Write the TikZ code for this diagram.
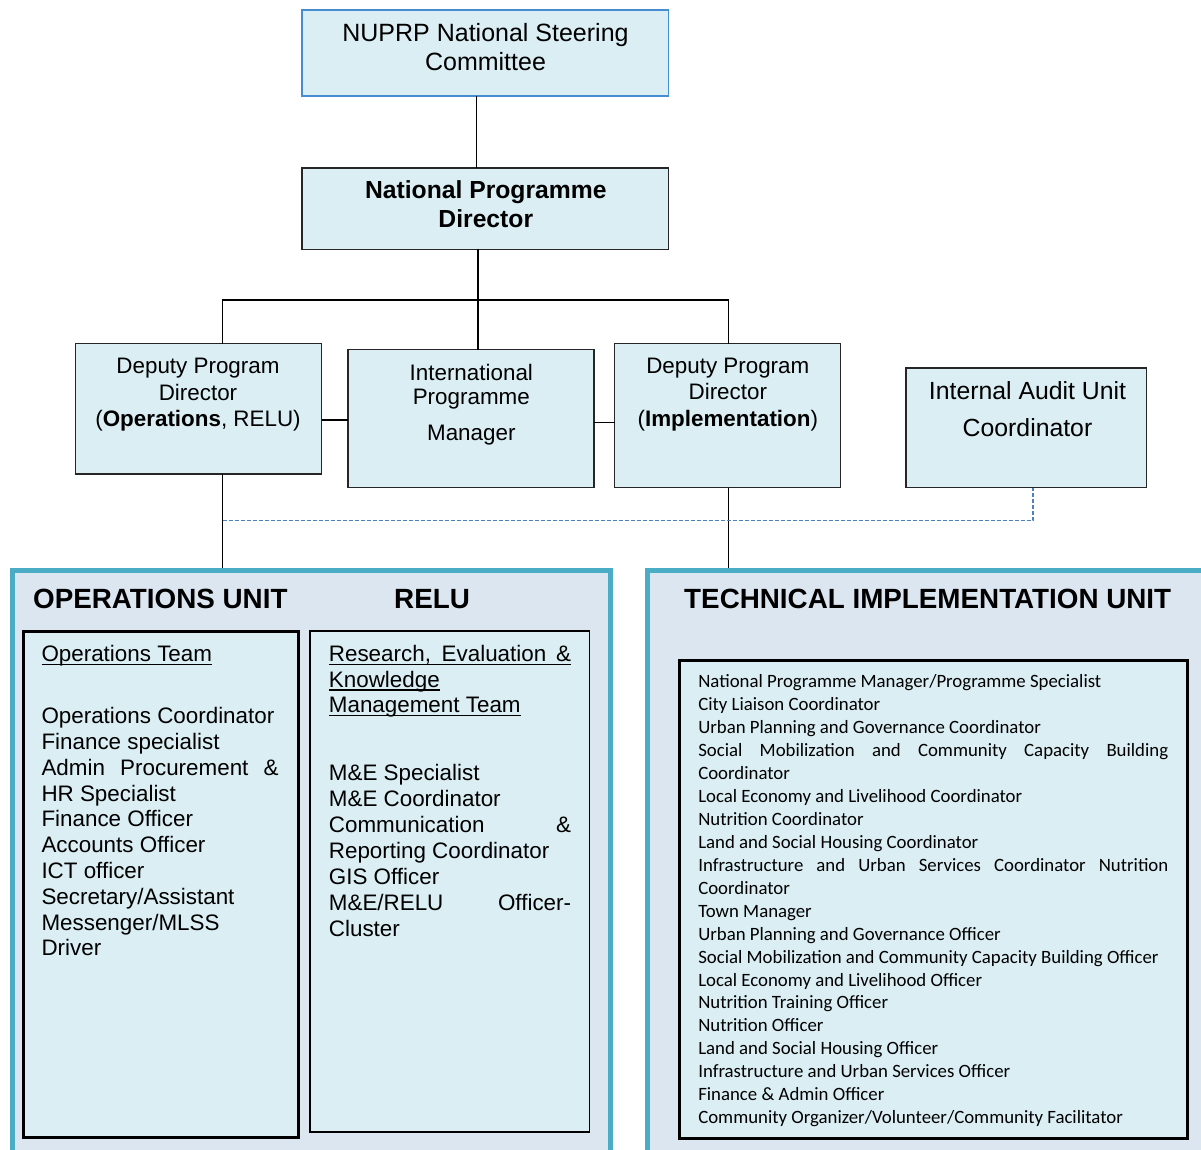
\documentclass[tikz,border=0pt]{standalone}
\usepackage{fontspec}
\setmainfont{Liberation Sans}
\newfontfamily\calib{Carlito}
\usetikzlibrary{calc}
\definecolor{cellblue}{RGB}{218,238,243}
\definecolor{unitfill}{RGB}{220,230,241}
\definecolor{unitteal}{RGB}{75,172,198}
\definecolor{nusblue}{RGB}{70,140,210}
\definecolor{dashblue}{RGB}{79,129,189}
\newcommand\ulx[1]{\setbox0\hbox{#1}\rlap{\rule[-3.6pt]{\wd0}{1.3pt}}\box0}
\begin{document}
\begin{tikzpicture}[x=1pt,y=-1pt,
  boxn/.style={draw=black!85, fill=cellblue, line width=1.2pt, rectangle, inner sep=0pt, outer sep=0pt, anchor=north west},
  unitn/.style={draw=unitteal, fill=unitfill, line width=4.5pt, rectangle, inner sep=0pt, outer sep=0pt, anchor=north west},
  teamn/.style={draw=black, fill=cellblue, line width=3pt, rectangle, inner sep=0pt, outer sep=0pt, anchor=north west},
  conn/.style={draw=black, line width=1.4pt},
  dashl/.style={draw=dashblue, line width=1.2pt, dash pattern=on 4pt off 2pt},
  txt/.style={inner sep=0pt, outer sep=0pt},
  topfont/.style={font=\fontsize{25}{29.3}\selectfont},
  midfont/.style={font=\fontsize{22.4}{26.5}\selectfont},
  titlefont/.style={font=\bfseries\fontsize{27.8}{30}\selectfont},
  listfont/.style={font=\fontsize{22.4}{25.8}\selectfont},
  tiufont/.style={font=\calib\fontsize{18.8}{22.93}\selectfont}
]
\useasboundingbox (0,0) rectangle (1201,1150);
\clip (0,0) rectangle (1201,1150);

% top boxes
\node[boxn, draw=nusblue, minimum width=366.5pt, minimum height=86pt] (nusc) at (302,10) {};
\node[boxn, minimum width=366.5pt, minimum height=81.5pt] (npd) at (302,168) {};
\node[boxn, minimum width=246pt, minimum height=130.5pt] (dpo) at (75.5,343.5) {};
\node[boxn, minimum width=246pt, minimum height=138pt] (ipm) at (348,349.5) {};
\node[boxn, minimum width=226pt, minimum height=144pt] (dpi) at (614.5,343.5) {};
\node[boxn, minimum width=240.5pt, minimum height=119.5pt] (audit) at (906,368) {};

% units
\node[unitn, minimum width=598pt, minimum height=600pt] (opsunit) at (12.5,570.5) {};
\node[unitn, minimum width=582.5pt, minimum height=600pt] (tiu) at (647.5,570.5) {};
\node[teamn, minimum width=275pt, minimum height=506pt] (opsteam) at (23,631) {};
\node[teamn, line width=1.5pt, minimum width=279.5pt, minimum height=501pt] (reluteam) at (310,631) {};
\node[teamn, minimum width=508pt, minimum height=478pt] (tiuin) at (679,660) {};

% connectors
\coordinate (busl) at (222.5,300);
\coordinate (busr) at (728.5,300);
\coordinate (hy1) at (0,420);
\coordinate (hy2) at (0,422.7);
\coordinate (dl) at (222.5,520.5);
\draw[conn] ([xshift=-8.5pt]nusc.south) -- ([xshift=-8.5pt]npd.north);
\draw[conn] ([xshift=-7.25pt]npd.south) -- ([xshift=7pt]ipm.north);
\draw[conn] ([xshift=147pt]dpo.north west) -- (busl) -- (busr) -- ([xshift=114pt]dpi.north west);
\draw[conn] (dpo.east |- hy1) -- (ipm.west |- hy1);
\draw[conn] (ipm.east |- hy2) -- (dpi.west |- hy2);
\draw[conn, shorten >=2.2pt] ([xshift=147pt]dpo.south west) -- (opsunit.north west -| busl);
\draw[conn, shorten >=2.2pt] ([xshift=114pt]dpi.south west) -- (tiu.north west -| busr);
\draw[dashl] (dl) -| ([xshift=127pt]audit.south west);

% texts in top boxes (anchor = baseline of last line)
\node[txt, topfont, align=center, anchor=base] (tnusc) at (485.5,71.0) {NUPRP National Steering\\Committee};
\node[txt, font=\bfseries\fontsize{24.7}{28.3}\selectfont, align=center, anchor=base] (tnpd) at (485.8,227.3) {National Programme\\Director};
\node[txt, midfont, align=center, anchor=base] (tdpo) at (198,426.5) {Deputy Program\\Director\\(\textbf{Operations}, RELU)};
\node[txt, font=\fontsize{22.4}{24}\selectfont, align=center, anchor=base] (tipm) at (471.3,440) {International\\Programme\\[12pt]Manager};
\node[txt, midfont, align=center, anchor=base] (tdpi) at (727.8,426.3) {Deputy Program\\Director\\(\textbf{Implementation})};
\node[txt, font=\fontsize{24.8}{37.4}\selectfont, align=center, anchor=base] (taudit) at (1027.5,436.7) {Internal Audit Unit\\Coordinator};

% unit titles
\node[txt, titlefont, anchor=base west] (tops) at (33.2,608.2) {OPERATIONS UNIT};
\node[txt, titlefont, anchor=base west] (trelu) at (394.2,608.2) {RELU};
\node[txt, titlefont, anchor=base] (ttiu) at (927.7,608.2) {TECHNICAL IMPLEMENTATION UNIT};

% operations team
\node[txt, listfont, anchor=base west] (opshead) at (41.5,661.6) {\ulx{Operations Team}};
\node[txt, listfont, align=left, anchor=base west] (opslist) at (41.5,955.9) {Operations Coordinator\\Finance specialist\\\makebox[237.2pt][s]{Admin Procurement \&}\\HR Specialist\\Finance Officer\\Accounts Officer\\ICT officer\\Secretary/Assistant\\Messenger/MLSS\\Driver};

% RELU team
\node[txt, font=\fontsize{22.4}{25.4}\selectfont, align=left, anchor=base west] (reluhead) at (328.9,712.4) {\ulx{\makebox[242.2pt][s]{Research, Evaluation \&}}\\\ulx{Knowledge}\\\ulx{Management Team}};
\node[txt, font=\fontsize{22.4}{26}\selectfont, align=left, anchor=base west] (relulist) at (328.9,936) {M\&E Specialist\\M\&E Coordinator\\\makebox[242.2pt][s]{Communication \&}\\Reporting Coordinator\\GIS Officer\\\makebox[242.2pt][s]{M\&E/RELU Officer-}\\Cluster};

% TIU list
\node[txt, tiufont, align=left, anchor=base west] (tiulist) at (698.3,1123.6) {National Programme Manager/Programme Specialist\\City Liaison Coordinator\\Urban Planning and Governance Coordinator\\\makebox[470pt][s]{Social Mobilization and Community Capacity Building}\\Coordinator\\Local Economy and Livelihood Coordinator\\Nutrition Coordinator\\Land and Social Housing Coordinator\\\makebox[470pt][s]{Infrastructure and Urban Services Coordinator Nutrition}\\Coordinator\\Town Manager\\Urban Planning and Governance Officer\\Social Mobilization and Community Capacity Building Officer\\Local Economy and Livelihood Officer\\Nutrition Training Officer\\Nutrition Officer\\Land and Social Housing Officer\\Infrastructure and Urban Services Officer\\Finance \& Admin Officer\\Community Organizer/Volunteer/Community Facilitator};
\end{tikzpicture}
\end{document}
